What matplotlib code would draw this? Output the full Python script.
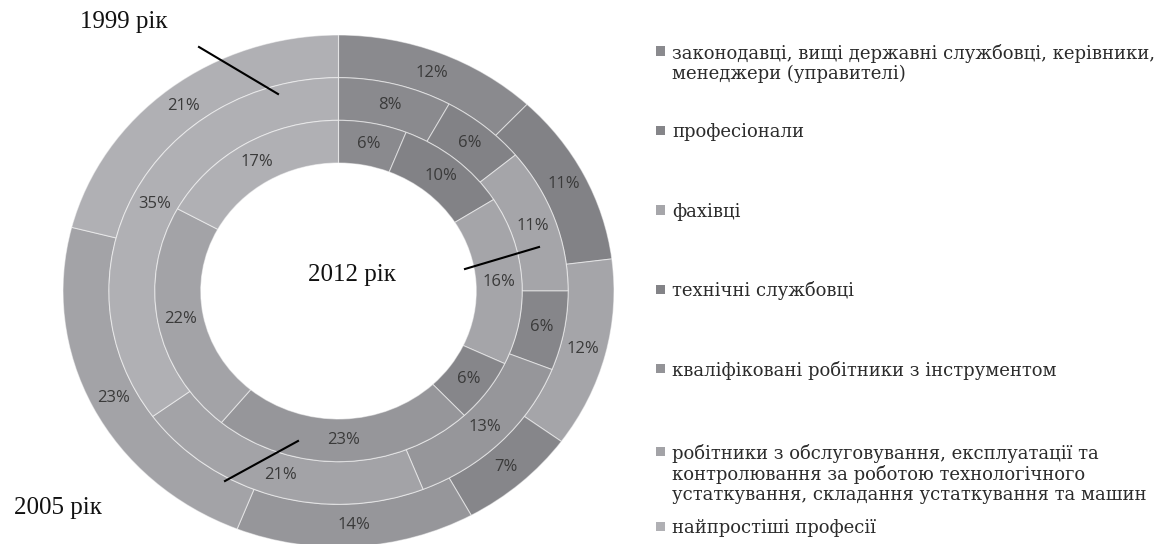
import matplotlib
matplotlib.use("Agg")
import matplotlib.pyplot as plt
from matplotlib.lines import Line2D
from matplotlib.patches import Rectangle

# ---------------- data ----------------
categories = [
    "законодавці, вищі державні службовці, керівники,\nменеджери (управителі)",
    "професіонали",
    "фахівці",
    "технічні службовці",
    "кваліфіковані робітники з інструментом",
    "робітники з обслуговування, експлуатації та\nконтролювання за роботою технологічного\nустаткування, складання устаткування та машин",
    "найпростіші професії",
]
values_1999 = [12, 11, 12, 7, 14, 23, 21]   # outer ring
values_2005 = [8, 6, 11, 6, 13, 21, 35]     # middle ring
values_2012 = [6, 10, 16, 6, 23, 22, 17]    # inner ring
year_labels = ["1999 рік", "2005 рік", "2012 рік"]

colors = ["#8a8a8e", "#828286", "#a5a5a9", "#86868a", "#96969a", "#a3a3a7", "#b0b0b4"]
legend_colors = ["#8a8a8e", "#858589", "#a6a6aa", "#838387", "#939397", "#a3a3a7", "#b0b0b4"]

W, H = 1159, 544
fig = plt.figure(figsize=(W / 100, H / 100), dpi=100)
fig.patch.set_facecolor("white")

# pie axes: centre (338.5, 291) px, radii 275.5 (x) / 256 (y)
cx, cy, rx, ry = 338.5, 291.0, 275.5, 256.0
ax = fig.add_axes([(cx - rx) / W, (H - (cy + ry)) / H, 2 * rx / W, 2 * ry / H])

ring_w = 1 / 6
rings = [(values_1999, 1.0), (values_2005, 1 - ring_w), (values_2012, 1 - 2 * ring_w)]
for vals, r in rings:
    wedges, texts, autotexts = ax.pie(
        vals, radius=r, startangle=90, counterclock=False, colors=colors,
        autopct="%.0f%%", pctdistance=1 - (ring_w / 2) / r,
        wedgeprops=dict(width=ring_w, edgecolor=(1, 1, 1, 0.5), linewidth=0.8),
        textprops=dict(family="Open Sans", fontsize=12, color="#3a3a3a"),
    )

ax.set_aspect("auto")
ax.set_xlim(-1, 1)
ax.set_ylim(-1, 1)
ax.axis("off")

# ---------------- year annotations ----------------
def fx(px):
    return px / W

def fy(py):
    return 1 - py / H

serif = ["Liberation Serif", "DejaVu Serif"]
fig.text(fx(124), fy(22), year_labels[0], ha="center", va="center", family=serif, fontsize=18, color="#111111")
fig.text(fx(58), fy(508), year_labels[1], ha="center", va="center", family=serif, fontsize=18, color="#111111")
fig.text(fx(352), fy(275), year_labels[2], ha="center", va="center", family=serif, fontsize=18, color="#111111")

for (x0, y0), (x1, y1) in [((199, 47), (278, 94)), ((225, 481), (298, 441)), ((465, 269), (539, 247))]:
    fig.add_artist(Line2D([fx(x0), fx(x1)], [fy(y0), fy(y1)], transform=fig.transFigure,
                          color="black", linewidth=1.5))

# ---------------- legend ----------------
first_line_y = [53, 132, 212, 291, 370, 453, 528]
pitch = 21
for label, col, y in zip(categories, legend_colors, first_line_y):
    n = label.count("\n") + 1
    sq = 9
    fig.add_artist(Rectangle((fx(656), fy(y - 2 + sq / 2)), sq / W, sq / H,
                             transform=fig.transFigure, facecolor=col, edgecolor="none"))
    fig.text(fx(672), fy(y + (n - 1) * pitch / 2), label, ha="left", va="center",
             family=["DejaVu Serif"], fontsize=13, color="#2b2b2b", linespacing=1.12)

fig.savefig("out.png", dpi=100, facecolor="white")
